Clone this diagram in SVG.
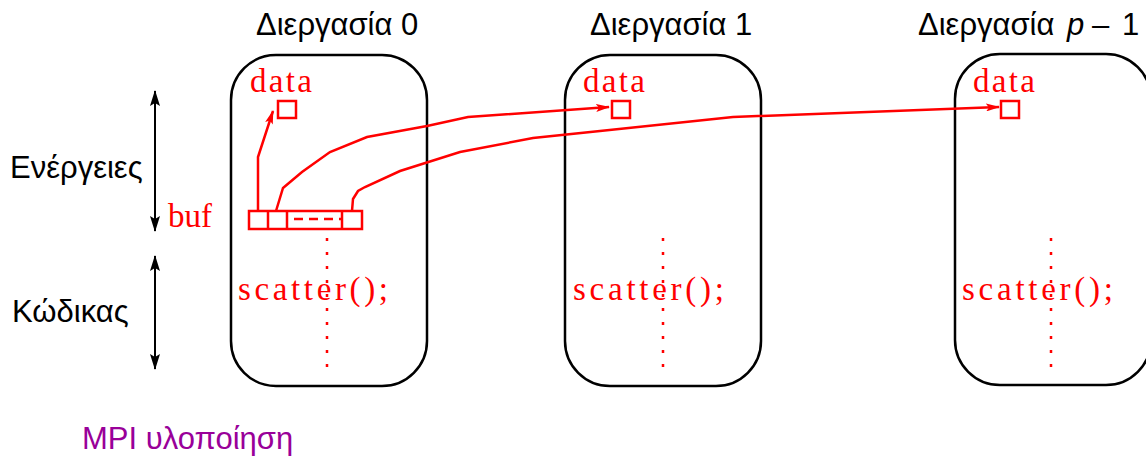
<svg xmlns="http://www.w3.org/2000/svg" width="1146" height="461" viewBox="0 0 1146 461">
<style>
.box{fill:none;stroke:#000;stroke-width:2.5}
.lbl{font-family:"Liberation Sans",Arial,sans-serif;font-size:31px;fill:#000}
.code{font-family:"Liberation Serif","Times New Roman",serif;font-size:33px;fill:#ff0000}
.red{fill:none;stroke:#ff0000;stroke-width:2.5}
.dots{fill:none;stroke:#ff0000;stroke-width:2.5;stroke-dasharray:3 11}
.vaxis{fill:none;stroke:#000;stroke-width:2}
</style>
<defs>
<marker id="ra" viewBox="0 0 14 8" refX="13" refY="4" markerWidth="14" markerHeight="8" markerUnits="userSpaceOnUse" orient="auto">
<path d="M0,0 L14,4 L0,8 L3,4 z" fill="#ff0000"/>
</marker>
<marker id="ka" viewBox="0 0 16 10" refX="15" refY="5" markerWidth="16" markerHeight="10" markerUnits="userSpaceOnUse" orient="auto-start-reverse">
<path d="M0,0 L16,5 L0,10 L3,5 z" fill="#000"/>
</marker>
</defs>

<g id="axis-left">
<text class="lbl" x="10" y="178">Ενέργειες</text>
<text class="lbl" x="12" y="322">Κώδικας</text>
<line class="vaxis" x1="155" y1="91" x2="155" y2="231" marker-start="url(#ka)" marker-end="url(#ka)"/>
<line class="vaxis" x1="155" y1="256" x2="155" y2="369" marker-start="url(#ka)" marker-end="url(#ka)"/>
</g>

<g id="process0">
<text class="lbl" x="256" y="35">Διεργασία 0</text>
<rect class="box" x="231" y="55" width="196" height="331" rx="45" ry="45"/>
<text class="code" x="250" y="92" textLength="62" lengthAdjust="spacing">data</text>
<rect class="red" x="278" y="101" width="18" height="17"/>
<line class="dots" x1="327" y1="238" x2="327" y2="372"/>
<text class="code" x="238" y="300" textLength="150" lengthAdjust="spacing">scatter();</text>
<text class="code" x="168" y="227" textLength="44" lengthAdjust="spacing">buf</text>
<g id="buf">
<rect class="red" x="249" y="211" width="113" height="18"/>
<line class="red" x1="268" y1="211" x2="268" y2="229"/>
<line class="red" x1="287" y1="211" x2="287" y2="229"/>
<line class="red" x1="342" y1="211" x2="342" y2="229"/>
<line x1="289" y1="219" x2="341" y2="219" stroke="#ff0000" stroke-width="2.5" stroke-dasharray="9 6" stroke-dashoffset="-5"/>
</g>
</g>

<g id="process1">
<text class="lbl" x="590" y="35">Διεργασία 1</text>
<rect class="box" x="565" y="55" width="196" height="331" rx="45" ry="45"/>
<text class="code" x="583" y="92" textLength="62" lengthAdjust="spacing">data</text>
<rect class="red" x="612" y="101" width="18" height="17"/>
<line class="dots" x1="663" y1="238" x2="663" y2="372"/>
<text class="code" x="573" y="300" textLength="151" lengthAdjust="spacing">scatter();</text>
</g>

<g id="process2">
<text class="lbl" x="918" y="35">Διεργασία<tspan x="1067" font-style="italic">p</tspan><tspan x="1092">–</tspan><tspan x="1122">1</tspan></text>
<rect class="box" x="955" y="54" width="196" height="331" rx="45" ry="45"/>
<text class="code" x="973" y="92" textLength="62" lengthAdjust="spacing">data</text>
<rect class="red" x="1001" y="101" width="18" height="17"/>
<line class="dots" x1="1051" y1="238" x2="1051" y2="372"/>
<text class="code" x="962" y="300" textLength="151" lengthAdjust="spacing">scatter();</text>
</g>

<g id="connectors">
<polyline class="red" points="258,211 258,157 273,111" marker-end="url(#ra)"/>
<polyline class="red" points="276,211 283,188 302,172 330,152 367,137 427,126 468,117 609,107" marker-end="url(#ra)"/>
<polyline class="red" points="352,211 353,199 358,191 365,187 400,171 460,152 533,138 600,131 733,117 999,107" marker-end="url(#ra)"/>
</g>

<text x="82" y="449" font-family="Liberation Sans, Arial, sans-serif" font-size="31" fill="#990099">MPI υλοποίηση</text>
</svg>
